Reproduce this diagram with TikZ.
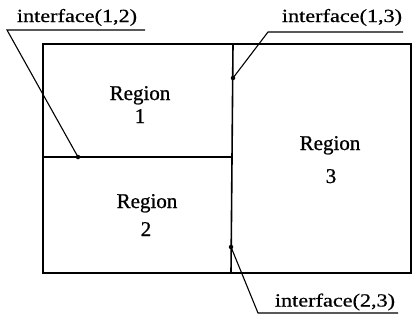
\documentclass[tikz,border=0pt]{standalone}
\usepackage{fontspec}
\setmainfont{Liberation Serif}[FakeBold=0.6]
\newfontfamily\lblfont[FakeStretch=1.2,FakeBold=0.6]{Liberation Serif}
\newfontfamily\regfont[FakeBold=0.8]{Liberation Serif}
\begin{document}
\begin{tikzpicture}[x=1pt,y=-1pt,
  frame/.style={line width=1.6pt},
  leader/.style={line width=1.1pt},
  dotmark/.style={circle,fill=black,inner sep=0pt,minimum size=4.5pt},
  lbl/.style={anchor=base,inner sep=0pt,font=\lblfont\fontsize{18.5}{20}\selectfont},
  reg/.style={anchor=base,inner sep=0pt,font=\regfont\fontsize{21}{23}\selectfont}]
\useasboundingbox (0,0) rectangle (415,324);
% regions
\coordinate (tl) at (43,44);
\coordinate (br) at (411,273);
\coordinate (vt) at (233,44);
\coordinate (vb) at (231,273);
\coordinate (hl) at (43,157);
\coordinate (hr) at (232,157);
\draw[frame] (tl) rectangle (br);
\draw[frame] (vt) -- (vb);
\draw[frame] (hl) -- (hr);
% region texts
\node[reg] (r1a) at (140,100) {Region};
\node[reg] (r1b) at (140,123) {1};
\node[reg] (r2a) at (147,208) {Region};
\node[reg] (r2b) at (146,236) {2};
\node[reg] (r3a) at (330,150) {Region};
\node[reg] (r3b) at (331,183) {3};
% interface dots
\node[dotmark] (d12) at (78,157) {};
\node[dotmark] (d13) at (233,78) {};
\node[dotmark] (d23) at (231,247) {};
% labels
\node[lbl] (l12) at (77,22) {interface(1,2)};
\node[lbl] (l13) at (342,22) {interface(1,3)};
\node[lbl] (l23) at (335,306.5) {interface(2,3)};
\coordinate (u12a) at (7,30);
\coordinate (u12b) at (145,30);
\coordinate (u13a) at (268,32);
\coordinate (u13b) at (403,32);
\coordinate (u23a) at (258,313);
\coordinate (u23b) at (398,313);
\draw[leader] (u12b) -- (u12a) -- (d12.center);
\draw[leader] (u13b) -- (u13a) -- (d13.center);
\draw[leader] (u23b) -- (u23a) -- (d23.center);
\end{tikzpicture}
\end{document}
